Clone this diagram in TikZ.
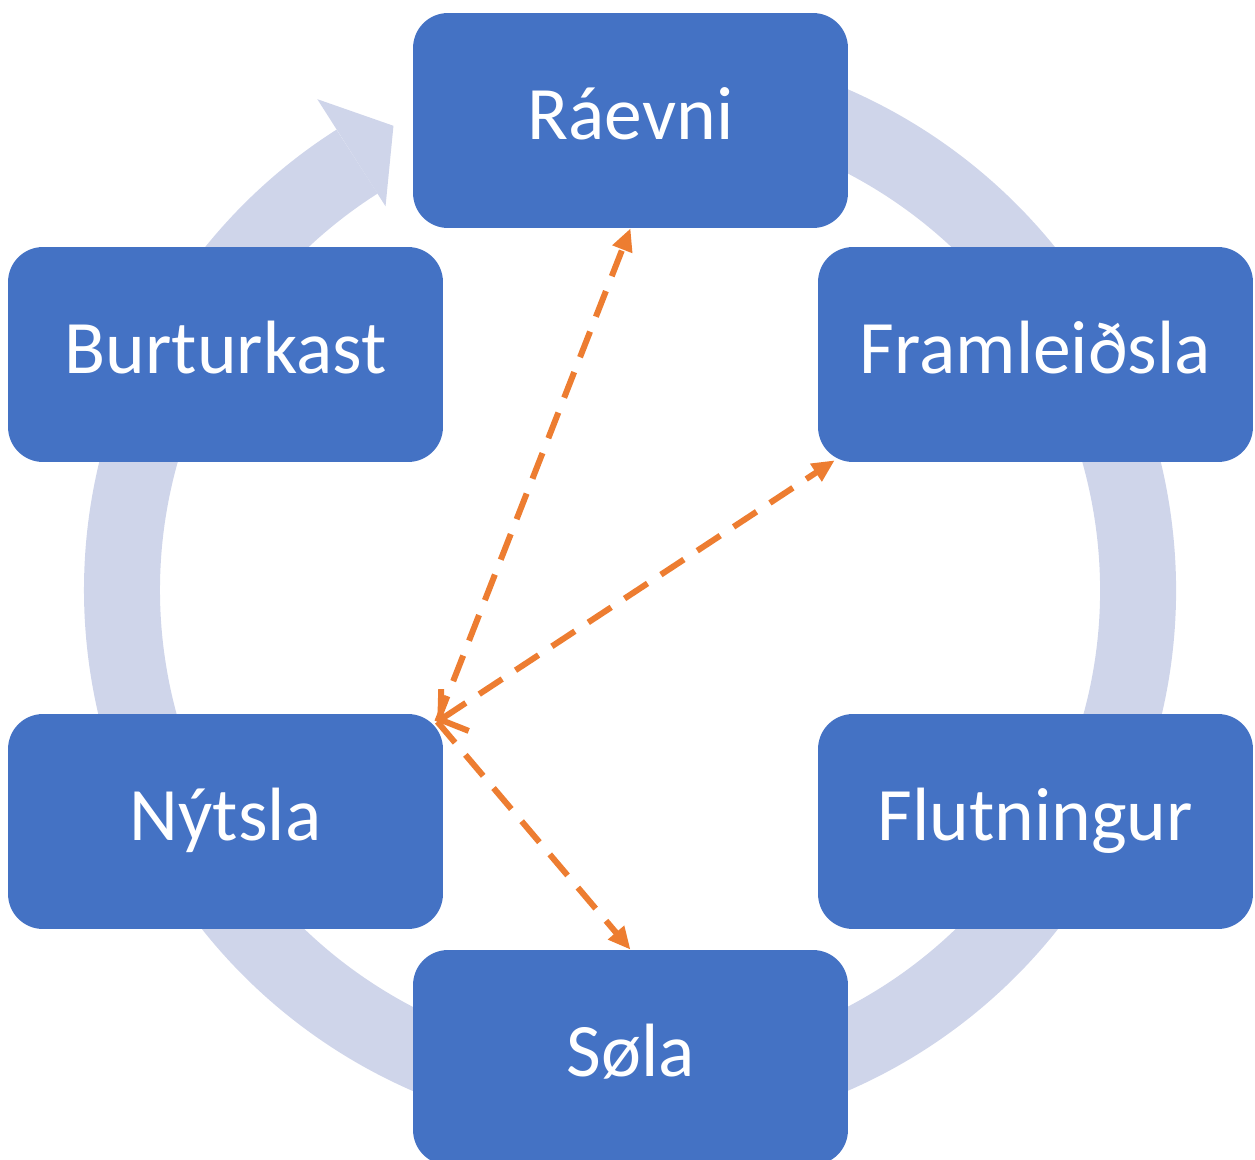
\documentclass[tikz,border=0pt]{standalone}
\usepackage{fontspec}
\setmainfont{Carlito}
\usepackage{tikz}
\usepackage{xcolor}
\usetikzlibrary{
    arrows.meta,
    calc
}
\definecolor{boxblue}{HTML}{4472C4}
\definecolor{ringblue}{HTML}{CFD5EA}
\definecolor{linkorange}{HTML}{ED7D31}
\tikzset{
    stage/.style={rectangle, rounded corners=0.7cm, fill=boxblue, text=white,
        minimum width=8.7cm, minimum height=4.3cm, inner sep=0pt,
        text height=31pt, text depth=9pt,
        font=\fontsize{43}{50}\selectfont},
    link/.style={linkorange, line width=0.12cm, dash pattern=on 0.55cm off 0.32cm,
        -{Triangle[length=0.45cm, width=0.4cm]}}
}

\begin{document}
\begin{tikzpicture}[x=0.02cm, y=0.02cm]
                            \useasboundingbox (0, 0) rectangle (1255, -1160);
                            % ring with its arrow head
                            \draw[ringblue, line width=1.52cm]
                            (630, -590) ++(100:508) arc[start angle=100, end angle=-237.5, radius=508];
                            \fill[ringblue] ($(630, -590)+(122.5:455)$) -- ($(630, -590)+(117:521)$)
                            -- ($(630, -590)+(122.5:582)$) -- cycle;
                            % stages
                            \node[stage] (rae) at (630.5, -120.5) {Ráevni};
                            \node[stage] (bur) at (225.5, -354.5) {Burturkast};
                            \node[stage] (fra) at (1035.5, -354.5) {Framleiðsla};
                            \node[stage] (nyt) at (225.5, -821.5) {Nýtsla};
                            \node[stage] (flu) at (1035.5, -821.5) {Flutningur};
                            \node[stage] (sol) at (630.5, -1057.5) {Søla};
                            \coordinate (hub) at ($(nyt.north east)+(-6, -8)$);
                            \coordinate (fraend) at ($(fra.south west)+(17, 2)$);
                            \draw
                            (hub) edge[link] (rae.south)
                            (hub) edge[link, {Straight Barb[length=0.35cm, width=1cm]}-{Triangle[length=0.45cm, width=0.4cm]}] (fraend)
                            (hub) edge[link] (sol.north);
                        \end{tikzpicture}
\end{document}
